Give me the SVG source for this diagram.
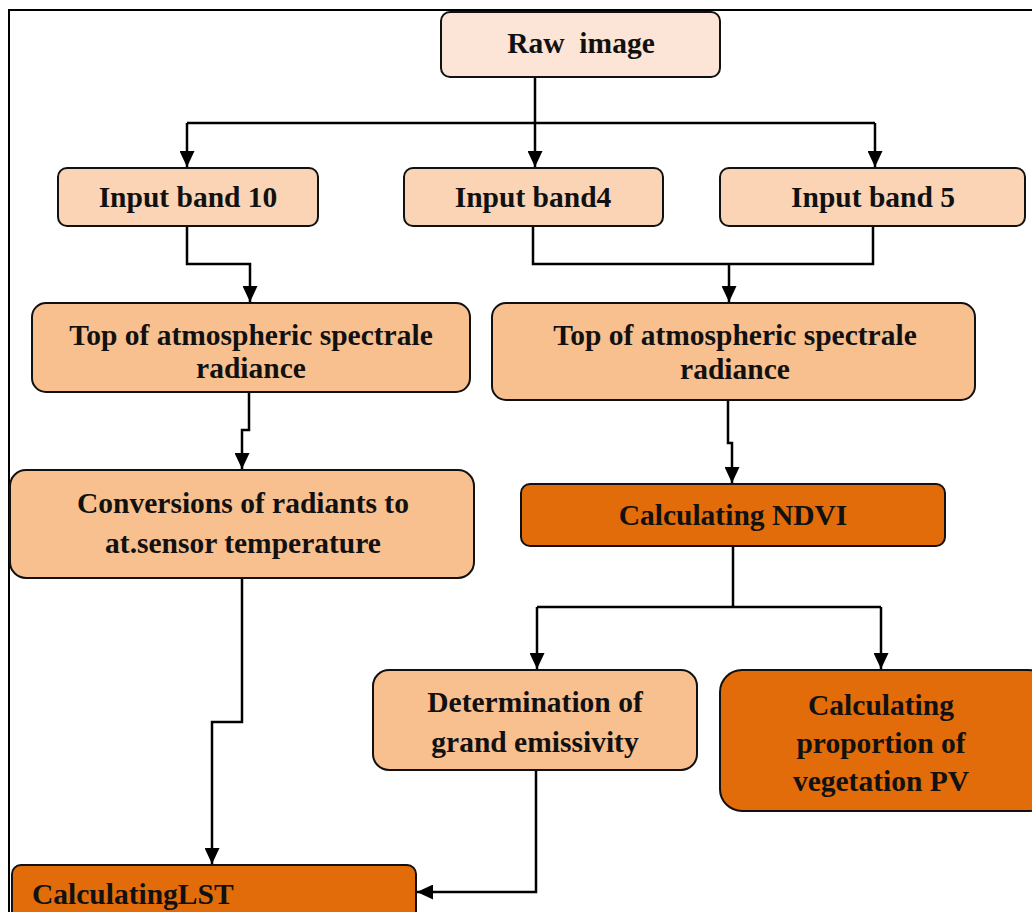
<svg xmlns="http://www.w3.org/2000/svg" width="1032" height="912" viewBox="0 0 1032 912">
<defs>
<style>
.box{stroke:#111;stroke-width:2}
.c0{fill:#FCE4D6}
.c1{fill:#FAD4B4}
.c2{fill:#F8BF8F}
.c3{fill:#E26B0A}
.t{font-family:"Liberation Serif","Times New Roman",serif;font-weight:bold;font-size:29.5px;fill:#111;text-anchor:middle}
.ln{fill:none;stroke:#000;stroke-width:2.5}
</style>
<marker id="ah" markerWidth="16" markerHeight="15" viewBox="0 0 16 15" refX="16" refY="7.5" orient="auto" markerUnits="userSpaceOnUse">
<path d="M0,0 L16,7.5 L0,15 Z" fill="#000"/>
</marker>
</defs>
<rect width="1032" height="912" fill="#fff"/>
<path d="M9,912 L9,10 L1032,10" fill="none" stroke="#000" stroke-width="2"/>

<g id="connectors">
<path class="ln" d="M535,77 L535,123"/>
<path class="ln" d="M187,123 L875,123"/>
<path class="ln" d="M187,123 L187,167" marker-end="url(#ah)"/>
<path class="ln" d="M535,123 L535,167" marker-end="url(#ah)"/>
<path class="ln" d="M875,123 L875,167" marker-end="url(#ah)"/>
<path class="ln" d="M187,226 L187,264 L250,264 L250,302" marker-end="url(#ah)"/>
<path class="ln" d="M533,226 L533,264 L873,264 L873,226"/>
<path class="ln" d="M729,264 L729,302" marker-end="url(#ah)"/>
<path class="ln" d="M249,392 L249,430 L242,430 L242,469" marker-end="url(#ah)"/>
<path class="ln" d="M728,400 L728,443 L732,443 L732,483" marker-end="url(#ah)"/>
<path class="ln" d="M733,546 L733,607"/>
<path class="ln" d="M537,607 L881,607"/>
<path class="ln" d="M537,607 L537,669" marker-end="url(#ah)"/>
<path class="ln" d="M881,607 L881,669" marker-end="url(#ah)"/>
<path class="ln" d="M242,578 L242,722 L212,722 L212,864" marker-end="url(#ah)"/>
<path class="ln" d="M536,770 L536,892 L417,892" marker-end="url(#ah)"/>
</g>

<g id="raw">
<rect class="box c0" x="441" y="12" width="279" height="65" rx="9"/>
<text class="t" x="581" y="53" xml:space="preserve">Raw  image</text>
</g>
<g id="band10">
<rect class="box c1" x="58" y="168" width="260" height="58" rx="9"/>
<text class="t" x="188" y="207">Input band 10</text>
</g>
<g id="band4">
<rect class="box c1" x="404" y="168" width="259" height="58" rx="9"/>
<text class="t" x="533" y="207">Input band4</text>
</g>
<g id="band5">
<rect class="box c1" x="720" y="168" width="305" height="58" rx="9"/>
<text class="t" x="873" y="207">Input band 5</text>
</g>
<g id="toa_left">
<rect class="box c2" x="32" y="303" width="438" height="89" rx="14"/>
<text class="t" x="251" y="345">Top of atmospheric spectrale</text>
<text class="t" x="251" y="378">radiance</text>
</g>
<g id="toa_right">
<rect class="box c2" x="492" y="303" width="483" height="97" rx="14"/>
<text class="t" x="735" y="345">Top of atmospheric spectrale</text>
<text class="t" x="735" y="379">radiance</text>
</g>
<g id="conversion">
<rect class="box c2" x="10" y="470" width="464" height="108" rx="16"/>
<text class="t" x="243" y="513">Conversions of radiants to</text>
<text class="t" x="243" y="553">at.sensor temperature</text>
</g>
<g id="ndvi">
<rect class="box c3" x="521" y="484" width="424" height="62" rx="9"/>
<text class="t" x="733" y="525">Calculating NDVI</text>
</g>
<g id="emissivity">
<rect class="box c2" x="373" y="670" width="324" height="100" rx="16"/>
<text class="t" x="535" y="712">Determination of</text>
<text class="t" x="535" y="752">grand emissivity</text>
</g>
<g id="pv">
<rect class="box c3" x="720" y="670" width="330" height="141" rx="22"/>
<text class="t" x="881" y="715">Calculating</text>
<text class="t" x="881" y="753">proportion of</text>
<text class="t" x="881" y="791">vegetation PV</text>
</g>
<g id="lst">
<rect class="box c3" x="12" y="865" width="404" height="70" rx="9"/>
<text class="t" x="32" y="904" style="text-anchor:start">CalculatingLST</text>
</g>
</svg>
